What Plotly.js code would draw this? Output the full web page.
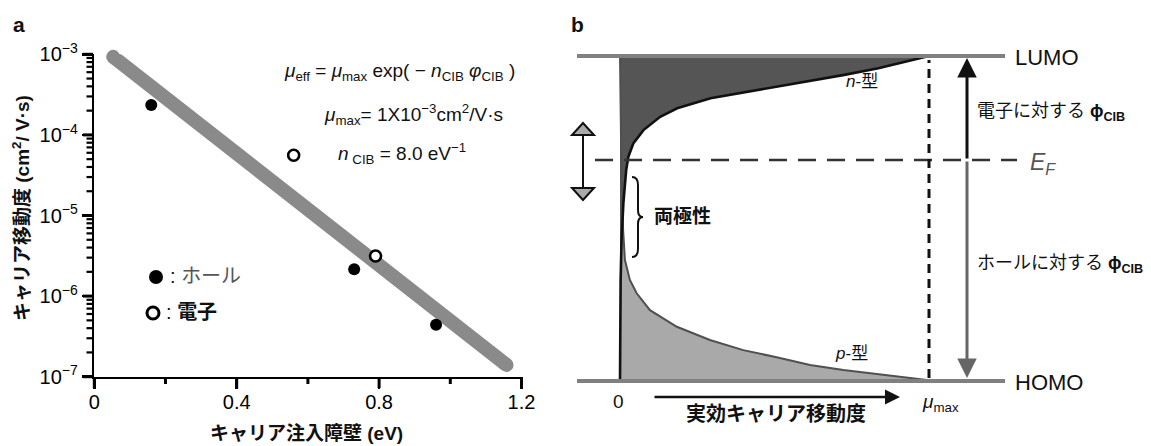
<!DOCTYPE html>
<html><head><meta charset="utf-8">
<script src="https://cdn.plot.ly/plotly-3.0.1.min.js"></script>
<style>html,body{margin:0;padding:0;background:#fff}</style>
</head><body><div id="chart" style="width:1151px;height:446px"></div>
<script>
// ---------- Panel a : data ----------
const holeBarrier  = [0.16, 0.73, 0.96];          // eV
const holeMobility = [2.35e-4, 2.15e-6, 4.4e-7];  // cm2/V.s
const elecBarrier  = [0.56, 0.79];
const elecMobility = [5.6e-5, 3.15e-6];
const fitBarrier   = [0.053, 1.158];
const fitMobility  = [9.3e-4, 1.4e-7];
const xTickVals = [0, 0.4, 0.8, 1.2];
const xTickText = ['0', '0.4', '0.8', '1.2'];
const xMinorVals = [0.2, 0.6, 1.0];
const yTickVals = [1e-7, 1e-6, 1e-5, 1e-4, 1e-3];
const yTickText = ['10<sup>−7</sup>', '10<sup>−6</sup>', '10<sup>−5</sup>', '10<sup>−4</sup>', '10<sup>−3</sup>'];
const yMinorDigits = [2, 3, 4, 5, 6, 7, 8, 9];

// ---------- Panel b : schematic (x = fraction of mu_max, y = energy, HOMO=0, LUMO=1) ----------
const nTypeMu = [1.0, 0.836, 0.726, 0.510, 0.402, 0.293, 0.185, 0.130, 0.076, 0.043, 0.027, 0.020, 0.011, 0.005, 0.002, 0.0];
const nTypeE  = [1.0, 0.962, 0.942, 0.906, 0.890, 0.870, 0.839, 0.813, 0.772, 0.731, 0.690, 0.649, 0.548, 0.434, 0.311, 0.0];
const pTypeMu = [0.0, 0.002, 0.005, 0.010, 0.016, 0.032, 0.054, 0.097, 0.184, 0.291, 0.399, 0.507, 0.615, 0.723, 0.831, 0.993];
const pTypeE  = [1.0, 0.865, 0.618, 0.465, 0.372, 0.311, 0.270, 0.218, 0.167, 0.126, 0.095, 0.073, 0.049, 0.034, 0.021, 0.003];
const fermiLevel = 0.68;

const W = 1151, H = 446;
const FONT = 'Liberation Sans, Arial, Noto Sans CJK JP, sans-serif';
const X2 = p => (p - 620) / 309, Y2 = p => (381 - p) / 325;
const PX = p => p / W, PY = p => 1 - p / H;
const xDomain = [PX(94.3), PX(521.5)], yDomain = [PY(376.7), PY(54.3)];
const xRange = [0, 1.2], yLogRange = [-7, -3];
// paper position of a value on the panel-a axes (used for the minor tick marks)
const xPaper = v => xDomain[0] + (v - xRange[0]) / (xRange[1] - xRange[0]) * (xDomain[1] - xDomain[0]);
const yPaper = v => yDomain[0] + (Math.log10(v) - yLogRange[0]) / (yLogRange[1] - yLogRange[0]) * (yDomain[1] - yDomain[0]);

const yMinorVals = [];
yTickVals.slice(0, -1).forEach(d => yMinorDigits.forEach(k => yMinorVals.push(d * k)));

const traces = [
  {x: fitBarrier, y: fitMobility, xaxis: 'x', yaxis: 'y', mode: 'lines+markers',
   line: {color: '#8a8a8a', width: 14}, marker: {size: 14, color: '#8a8a8a'}, cliponaxis: false, hoverinfo: 'skip'},
  {x: holeBarrier, y: holeMobility, xaxis: 'x', yaxis: 'y', mode: 'markers',
   marker: {size: 12, color: '#000'}, cliponaxis: false},
  {x: elecBarrier, y: elecMobility, xaxis: 'x', yaxis: 'y', mode: 'markers',
   marker: {size: 11, color: '#fff', line: {width: 2.6, color: '#000'}}, cliponaxis: false},
  // panel b fills
  {x: pTypeMu.concat([1, 0]), y: pTypeE.concat([0, 0]), xaxis: 'x2', yaxis: 'y2', mode: 'lines',
   fill: 'toself', fillcolor: '#a9a9a9', line: {width: 0}, hoverinfo: 'skip'},
  {x: nTypeMu.concat([0]), y: nTypeE.concat([1]), xaxis: 'x2', yaxis: 'y2', mode: 'lines',
   fill: 'toself', fillcolor: '#555555', line: {width: 0}, hoverinfo: 'skip'},
  {x: pTypeMu, y: pTypeE, xaxis: 'x2', yaxis: 'y2', mode: 'lines',
   line: {color: '#505050', width: 2}, hoverinfo: 'skip'},
  {x: nTypeMu, y: nTypeE, xaxis: 'x2', yaxis: 'y2', mode: 'lines',
   line: {color: '#111', width: 2.6}, hoverinfo: 'skip'}
];

function pathPx(pts, close) {
  let s = pts.map((p, i) => (i ? 'L' : 'M') + PX(p[0]).toFixed(5) + ',' + PY(p[1]).toFixed(5)).join(' ');
  return close ? s + ' Z' : s;
}
const braceX = 638, braceTop = 177, braceBot = 257, braceMid = 217;
const bracePath = 'M' + PX(braceX - 6) + ',' + PY(braceTop) +
  ' Q' + PX(braceX) + ',' + PY(braceTop) + ' ' + PX(braceX) + ',' + PY(braceTop + 8) +
  ' L' + PX(braceX) + ',' + PY(braceMid - 7) +
  ' Q' + PX(braceX) + ',' + PY(braceMid) + ' ' + PX(braceX + 5) + ',' + PY(braceMid) +
  ' Q' + PX(braceX) + ',' + PY(braceMid) + ' ' + PX(braceX) + ',' + PY(braceMid + 7) +
  ' L' + PX(braceX) + ',' + PY(braceBot - 8) +
  ' Q' + PX(braceX) + ',' + PY(braceBot) + ' ' + PX(braceX - 6) + ',' + PY(braceBot);

const shapes = [
  // legend markers (panel a)
  {type: 'circle', xref: 'paper', yref: 'paper', x0: PX(149), x1: PX(163), y0: PY(284), y1: PY(270),
   fillcolor: '#000', line: {width: 0}},
  {type: 'circle', xref: 'paper', yref: 'paper', x0: PX(147), x1: PX(159), y0: PY(319), y1: PY(307),
   fillcolor: '#fff', line: {width: 3, color: '#000'}},
  // LUMO / HOMO
  {type: 'line', xref: 'x2', yref: 'y2', x0: X2(577), x1: X2(1005), y0: 1, y1: 1, line: {color: '#808080', width: 4}},
  {type: 'line', xref: 'x2', yref: 'y2', x0: X2(577), x1: X2(1005), y0: 0, y1: 0, line: {color: '#808080', width: 4}},
  // Fermi level
  {type: 'line', xref: 'x2', yref: 'y2', x0: X2(595), x1: X2(1017), y0: fermiLevel, y1: fermiLevel,
   line: {color: '#333', width: 2.5, dash: '18px,11px'}},
  // mu_max
  {type: 'line', xref: 'x2', yref: 'y2', x0: 1, x1: 1, y0: Y2(378), y1: Y2(60),
   line: {color: '#111', width: 3, dash: '9px,6px'}},
  // double arrow
  {type: 'line', xref: 'paper', yref: 'paper', x0: PX(583), x1: PX(583), y0: PY(134), y1: PY(189),
   line: {color: '#111', width: 2}},
  {type: 'path', xref: 'paper', yref: 'paper', path: pathPx([[583, 123], [572, 135], [594, 135]], true),
   fillcolor: '#aaa', line: {color: '#111', width: 2}},
  {type: 'path', xref: 'paper', yref: 'paper', path: pathPx([[583, 200], [572, 188], [594, 188]], true),
   fillcolor: '#aaa', line: {color: '#111', width: 2}},
  // brace
  {type: 'path', xref: 'paper', yref: 'paper', path: bracePath, line: {color: '#111', width: 2}}
];
// major and minor tick marks of panel a
xTickVals.forEach(v => shapes.push({type: 'line', xref: 'paper', yref: 'paper', x0: xPaper(v), x1: xPaper(v),
  y0: PY(377), y1: PY(388), line: {color: '#000', width: 3}}));
xMinorVals.forEach(v => shapes.push({type: 'line', xref: 'paper', yref: 'paper', x0: xPaper(v), x1: xPaper(v),
  y0: PY(377), y1: PY(384), line: {color: '#000', width: 3}}));
yTickVals.forEach(v => shapes.push({type: 'line', xref: 'paper', yref: 'paper', x0: PX(83), x1: PX(93),
  y0: yPaper(v), y1: yPaper(v), line: {color: '#000', width: 3}}));
yMinorVals.forEach(v => shapes.push({type: 'line', xref: 'paper', yref: 'paper', x0: PX(86.5), x1: PX(93),
  y0: yPaper(v), y1: yPaper(v), line: {color: '#000', width: 2.2}}));

function txt(t, x, y, size, opt) {
  return Object.assign({text: t, xref: 'paper', yref: 'paper', x: PX(x), y: PY(y), showarrow: false,
    xanchor: 'center', yanchor: 'middle', font: {family: FONT, size: size, color: '#111'}}, opt || {});
}

const annotations = [
  txt('<b>a</b>', 19, 24, 21),
  txt('<b>b</b>', 578, 24, 21),
  txt('<i>μ</i><sub>eff</sub> = <i>μ</i><sub>max</sub> exp( − <i>n</i><sub>CIB</sub> <i>φ</i><sub>CIB</sub> )', 399, 72, 19),
  txt('<i>μ</i><sub>max</sub>= 1X10<sup>−3</sup>cm<sup>2</sup>/V·s', 413, 115, 19),
  txt('<i>n</i><sub> CIB</sub> = 8.0 eV<sup>−1</sup>', 402, 153, 19),
  txt(': <span style="color:#555">ホール</span>', 168, 276, 20, {xanchor: 'left'}),
  txt(': <b>電子</b>', 164, 312, 20, {xanchor: 'left'}),
  txt('<b>キャリア注入障壁 (eV)</b>', 306, 433, 19),
  txt('<b>キャリア移動度 (cm<sup>2</sup>/ V·s)</b>', 21, 208, 19, {textangle: -90}),
  // panel b texts
  txt('LUMO', 1013, 57, 22, {xanchor: 'left'}),
  txt('HOMO', 1013, 382, 22, {xanchor: 'left'}),
  txt('<i>E<sub>F</sub></i>', 1028, 164, 23, {xanchor: 'left', font: {family: FONT, size: 23, color: '#555'}}),
  txt('電子に対する <b>ϕ</b><sub><b>CIB</b></sub>', 975, 113, 18, {xanchor: 'left'}),
  txt('ホールに対する <b>ϕ</b><sub><b>CIB</b></sub>', 975, 264, 18, {xanchor: 'left'}),
  txt('<i>n</i>-型', 862, 82, 17),
  txt('<i>p</i>-型', 851, 353, 17),
  txt('<b>両極性</b>', 652, 216, 19, {xanchor: 'left'}),
  txt('0', 618, 401, 19),
  txt('<i>μ</i><sub>max</sub>', 940, 403, 19),
  txt('<b>実効キャリア移動度</b>', 776, 414, 20),
  // arrows
  {text: '', xref: 'x2', yref: 'y2', axref: 'x2', ayref: 'y2', x: X2(967), y: Y2(58), ax: X2(967), ay: fermiLevel,
   showarrow: true, arrowhead: 2, arrowsize: 1.3, arrowwidth: 3, arrowcolor: '#111'},
  {text: '', xref: 'x2', yref: 'y2', axref: 'x2', ayref: 'y2', x: X2(967), y: Y2(378), ax: X2(967), ay: fermiLevel,
   showarrow: true, arrowhead: 2, arrowsize: 1.3, arrowwidth: 3, arrowcolor: '#666'},
  {text: '', xref: 'paper', yref: 'paper', axref: 'pixel', ayref: 'pixel', x: PX(900), y: PY(397), ax: -247, ay: 0,
   showarrow: true, arrowhead: 2, arrowsize: 1.2, arrowwidth: 2.5, arrowcolor: '#111'}
];

const layout = {
  width: W, height: H, margin: {l: 0, r: 0, t: 0, b: 0}, showlegend: false,
  paper_bgcolor: '#fff', plot_bgcolor: 'rgba(0,0,0,0)',
  font: {family: FONT, color: '#111'},
  xaxis: {domain: xDomain, range: xRange, anchor: 'y', showgrid: false, zeroline: false,
    showline: true, linewidth: 2.5, linecolor: '#000', ticks: 'outside', ticklen: 10, tickwidth: 2.5, tickcolor: '#000',
    tickmode: 'array', tickvals: xTickVals, ticktext: xTickText, tickfont: {family: FONT, size: 20, color: '#000'},
    ticklabelstandoff: -4},
  yaxis: {domain: yDomain, type: 'log', range: yLogRange, anchor: 'x', showgrid: false, zeroline: false,
    showline: true, linewidth: 2.5, linecolor: '#000', ticks: 'outside', ticklen: 10, tickwidth: 2.5, tickcolor: '#000',
    tickmode: 'array', tickvals: yTickVals, ticktext: yTickText, tickfont: {family: FONT, size: 20, color: '#000'}},
  xaxis2: {domain: [PX(560), 1], range: [X2(560), X2(1151)], anchor: 'y2', visible: false, fixedrange: true},
  yaxis2: {domain: [0, 1], range: [Y2(446), Y2(0)], anchor: 'x2', visible: false, fixedrange: true},
  shapes: shapes,
  annotations: annotations
};

Plotly.newPlot('chart', traces, layout, {staticPlot: true, displayModeBar: false});
</script>
</body></html>
